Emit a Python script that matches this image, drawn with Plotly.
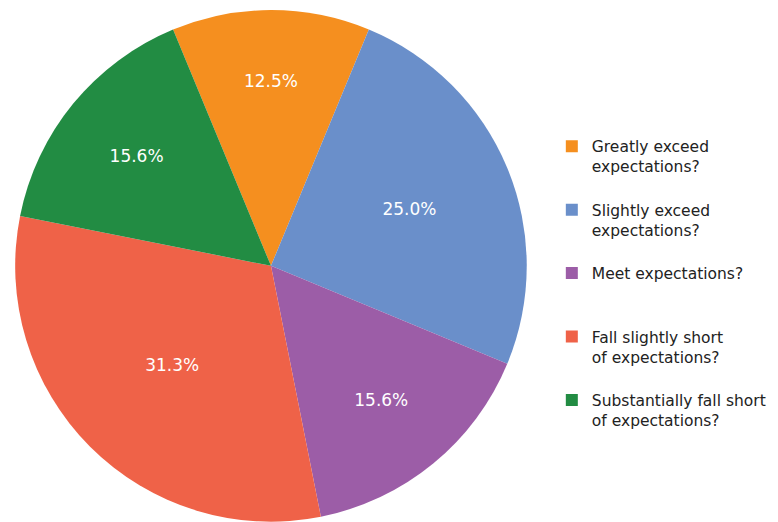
import plotly.graph_objects as go

categories = [
    "Greatly exceed<br>expectations?",
    "Slightly exceed<br>expectations?",
    "Meet expectations?",
    "Fall slightly short<br>of expectations?",
    "Substantially fall short<br>of expectations?",
]
counts = [4, 8, 5, 10, 5]
colors = ["#F58F1F", "#6A8FCA", "#9C5DA7", "#EF6248", "#228C43"]

# pad every legend label to three lines so entries are evenly spaced
legend_labels = []
for c in categories:
    n = c.count("<br>") + 1
    legend_labels.append(c + "<br> " * (3 - n))

fig = go.Figure(
    go.Pie(
        labels=legend_labels,
        values=counts,
        sort=False,
        direction="clockwise",
        rotation=-22.5,
        marker=dict(colors=colors, line=dict(width=0)),
        texttemplate="%{percent:.1%}",
        textposition="inside",
        insidetextorientation="horizontal",
        insidetextfont=dict(color="white", size=17, family="DejaVu Sans"),
        domain=dict(x=[0.009, 0.667], y=[0.016, 0.996]),
        hoverinfo="label+percent",
    )
)

fig.update_layout(
    width=778,
    height=522,
    margin=dict(l=0, r=0, t=0, b=0),
    paper_bgcolor="white",
    plot_bgcolor="white",
    font=dict(family="DejaVu Sans", size=15.5, color="#222222"),
    legend=dict(
        x=0.699,
        y=0.767,
        xanchor="left",
        yanchor="top",
        valign="top",
        font=dict(size=15.5, color="#222222"),
        bgcolor="rgba(0,0,0,0)",
    ),
)

fig.write_html("out.html")
